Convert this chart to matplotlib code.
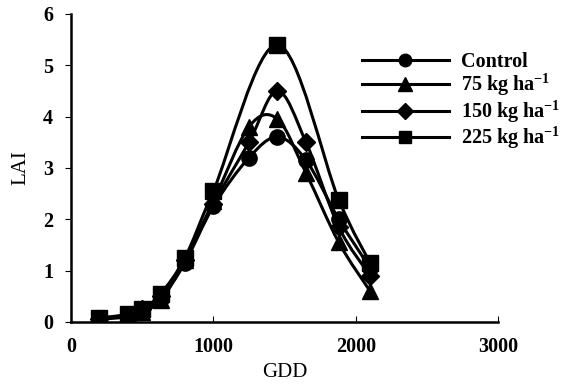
import numpy as np
import matplotlib
matplotlib.use('Agg')
import matplotlib.pyplot as plt
from matplotlib.path import Path
from matplotlib.patches import PathPatch

plt.rcParams['font.family'] = 'Liberation Serif'
plt.rcParams['mathtext.fontset'] = 'custom'
plt.rcParams['mathtext.bf'] = 'Liberation Serif:bold'
plt.rcParams['mathtext.rm'] = 'Liberation Serif:bold'
plt.rcParams['mathtext.default'] = 'bf'

# GDD sampling points
gdd = [200, 400, 500, 630, 800, 1000, 1250, 1450, 1650, 1880, 2100]
gdd_225 = [200, 400, 500, 630, 800, 1000, 1450, 1880, 2100]

# LAI per treatment
lai_control = [0.08, 0.12, 0.22, 0.45, 1.15, 2.25, 3.2, 3.6, 3.15, 2.0, 1.05]
lai_75 = [0.05, 0.10, 0.20, 0.42, 1.20, 2.35, 3.8, 3.95, 2.9, 1.55, 0.6]
lai_150 = [0.06, 0.12, 0.25, 0.50, 1.20, 2.30, 3.5, 4.5, 3.5, 1.85, 0.9]
lai_225 = [0.07, 0.15, 0.25, 0.55, 1.25, 2.55, 5.4, 2.38, 1.15]

labels = ['Control', r'75 kg ha$^{-1}$', r'150 kg ha$^{-1}$', r'225 kg ha$^{-1}$']


def smooth_path(x, y):
    # Catmull-Rom style bezier through the points (like Excel smoothed lines)
    p = np.column_stack([x, y]).astype(float)
    n = len(p)
    verts = [p[0]]
    codes = [Path.MOVETO]
    for i in range(n - 1):
        p0 = p[i - 1] if i > 0 else p[i]
        p1 = p[i]
        p2 = p[i + 1]
        p3 = p[i + 2] if i + 2 < n else p[i + 1]
        c1 = p1 + (p2 - p0) / 6
        c2 = p2 - (p3 - p1) / 6
        verts += [c1, c2, p2]
        codes += [Path.CURVE4] * 3
    return Path(verts, codes)


fig = plt.figure(figsize=(5.82, 3.85), dpi=100)
ax = fig.add_axes([0.122, 0.164, 0.734, 0.80])

series = [
    (gdd, lai_control, 'o', 11, 9),
    (gdd, lai_75, '^', 12, 10),
    (gdd, lai_150, 'D', 9, 8),
    (gdd_225, lai_225, 's', 11, 9),
]

for (x, y, m, ms, lms), lab in zip(series, labels):
    ax.add_patch(PathPatch(smooth_path(x, y), facecolor='none',
                           edgecolor='black', lw=2.2, zorder=2))
    ax.plot(x, y, linestyle='none', marker=m, ms=ms, color='black', zorder=3)
    # legend handle
    ax.plot([], [], color='black', lw=2.2, marker=m, ms=lms, label=lab)

ax.set_xlim(0, 3000)
ax.set_ylim(0, 6)
ax.set_xticks([0, 1000, 2000, 3000])
ax.set_yticks(range(0, 7))
ax.spines['top'].set_visible(False)
ax.spines['right'].set_visible(False)
ax.spines['left'].set_linewidth(1.8)
ax.spines['bottom'].set_linewidth(1.8)
ax.tick_params(axis='x', direction='in', length=4, labelsize=14.5, pad=11)
ax.tick_params(axis='y', direction='out', length=4, labelsize=14.5, pad=9)
for t in ax.get_xticklabels() + ax.get_yticklabels():
    t.set_fontweight('bold')

ax.set_xlabel('GDD', fontsize=15, labelpad=4)
ax.set_ylabel('LAI', fontsize=15, labelpad=9)

ax.legend(loc='upper left', bbox_to_anchor=(0.622, 0.866),
          bbox_transform=fig.transFigure, frameon=False,
          prop={'weight': 'bold', 'size': 14.5}, handlelength=4.3,
          handletextpad=0.6, labelspacing=0.02, borderpad=0,
          borderaxespad=0)

fig.savefig('out.png', dpi=100)
